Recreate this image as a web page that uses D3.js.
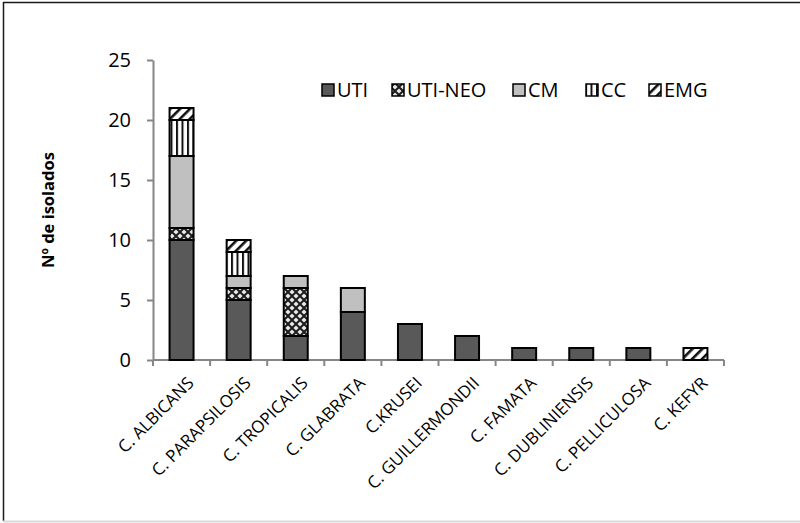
<!DOCTYPE html>
<html>
<head>
<meta charset="utf-8">
<script src="https://cdn.jsdelivr.net/npm/d3@7/dist/d3.min.js"></script>
<style>
  html, body { margin: 0; padding: 0; background: #fff; }
  svg { display: block; }
  text { font-family: "Open Sans", "Liberation Sans", sans-serif; fill: #000; }
</style>
</head>
<body>
<svg id="chart" width="800" height="523"></svg>
<script>
// Species of Candida (x categories)
const categories = [
  "C. ALBICANS", "C. PARAPSILOSIS", "C. TROPICALIS", "C. GLABRATA", "C.KRUSEI",
  "C. GUILLERMONDII", "C. FAMATA", "C. DUBLINIENSIS", "C. PELLICULOSA", "C. KEFYR"
];
// Number of isolates per sample origin, stacked in this order
const seriesNames = ["UTI", "UTI-NEO", "CM", "CC", "EMG"];
const uti    = [10, 5, 2, 4, 3, 2, 1, 1, 1, 0];
const utiNeo = [ 1, 1, 4, 0, 0, 0, 0, 0, 0, 0];
const cm     = [ 6, 1, 1, 2, 0, 0, 0, 0, 0, 0];
const cc     = [ 3, 2, 0, 0, 0, 0, 0, 0, 0, 0];
const emg    = [ 1, 1, 0, 0, 0, 0, 0, 0, 0, 1];
const yTicks = [0, 5, 10, 15, 20, 25];
const yTitle = "Nº de isolados";

const seriesValues = [uti, utiNeo, cm, cc, emg];
const rows = categories.map((c, i) => {
  const r = { cat: c };
  seriesNames.forEach((s, k) => r[s] = seriesValues[k][i]);
  return r;
});

const svg = d3.select("#chart");
const defs = svg.append("defs");

// Fill patterns for the stacked segments
const pNeo = defs.append("pattern").attr("id", "pNeo")
  .attr("patternUnits", "userSpaceOnUse").attr("width", 8).attr("height", 8);
pNeo.append("rect").attr("width", 8).attr("height", 8).attr("fill", "#1a1a1a");
[[0,0],[8,0],[0,8],[8,8],[4,4]].forEach(([cx, cy]) =>
  pNeo.append("path")
    .attr("d", `M${cx},${cy-2.6} L${cx+2.6},${cy} L${cx},${cy+2.6} L${cx-2.6},${cy} Z`)
    .attr("fill", "#e8e8e8"));

const pCC = defs.append("pattern").attr("id", "pCC")
  .attr("patternUnits", "userSpaceOnUse").attr("width", 5.5).attr("height", 10);
pCC.append("rect").attr("width", 5.5).attr("height", 10).attr("fill", "#fff");
pCC.append("rect").attr("x", 0).attr("width", 2).attr("height", 10).attr("fill", "#111");

const pEMG = defs.append("pattern").attr("id", "pEMG")
  .attr("patternUnits", "userSpaceOnUse").attr("width", 7).attr("height", 7)
  .attr("patternTransform", "rotate(45)");
pEMG.append("rect").attr("width", 7).attr("height", 7).attr("fill", "#fff");
pEMG.append("rect").attr("x", 0).attr("width", 2.6).attr("height", 7).attr("fill", "#111");

const fills = {
  "UTI": "#595959",
  "UTI-NEO": "url(#pNeo)",
  "CM": "#c0c0c0",
  "CC": "url(#pCC)",
  "EMG": "url(#pEMG)"
};

// Outer frame
svg.append("line").attr("x1", 3).attr("x2", 800).attr("y1", 2.5).attr("y2", 2.5)
  .attr("stroke", "#1a1a1a").attr("stroke-width", 1.5);
svg.append("line").attr("x1", 3.5).attr("x2", 3.5).attr("y1", 2).attr("y2", 521)
  .attr("stroke", "#1a1a1a").attr("stroke-width", 1.5);
svg.append("line").attr("x1", 3).attr("x2", 800).attr("y1", 521.5).attr("y2", 521.5)
  .attr("stroke", "#d9d9d9").attr("stroke-width", 2);

// Scales
const x = d3.scaleBand().domain(categories).range([153, 724])
  .paddingInner(0.58).paddingOuter(0.29);
const y = d3.scaleLinear().domain([0, 25]).range([360, 60]);

// Y axis
const yAxis = svg.append("g").attr("transform", "translate(153,0)")
  .call(d3.axisLeft(y).tickValues(yTicks).tickSize(6).tickSizeOuter(0).tickPadding(16));
yAxis.select(".domain").attr("stroke", "#868686").attr("stroke-width", 2);
yAxis.selectAll(".tick line").attr("stroke", "#868686").attr("stroke-width", 2);
yAxis.selectAll(".tick text").attr("font-size", 20)
  .attr("font-family", "'Open Sans', sans-serif").attr("fill", "#000");

svg.append("text")
  .attr("transform", `translate(54,210) rotate(-90)`)
  .attr("text-anchor", "middle")
  .attr("font-size", 16.5).attr("font-weight", "bold")
  .text(yTitle);

// X axis: baseline with ticks at category boundaries
const step = x.step();
const x0 = x.range()[0];
const bounds = d3.range(categories.length + 1).map(i => x0 + i * step);
const xAxis = svg.append("g");
xAxis.append("line").attr("x1", x0).attr("x2", x.range()[1])
  .attr("y1", y(0)).attr("y2", y(0))
  .attr("stroke", "#868686").attr("stroke-width", 2);
xAxis.selectAll("line.tk").data(bounds).join("line").attr("class", "tk")
  .attr("x1", d => d).attr("x2", d => d)
  .attr("y1", y(0)).attr("y2", y(0) + 6)
  .attr("stroke", "#868686").attr("stroke-width", 2);

// Stacked bars
const stack = d3.stack().keys(seriesNames)(rows);
svg.append("g").selectAll("g").data(stack).join("g")
  .attr("fill", d => fills[d.key])
  .selectAll("rect").data(d => d.filter(s => s[1] - s[0] > 0)).join("rect")
  .attr("x", d => x(d.data.cat))
  .attr("width", x.bandwidth())
  .attr("y", d => y(d[1]))
  .attr("height", d => y(d[0]) - y(d[1]))
  .attr("stroke", "#000").attr("stroke-width", 2);

// Category labels, rotated
svg.append("g").selectAll("text").data(categories).join("text")
  .attr("transform", d => `translate(${x(d) + x.bandwidth() / 2 + 9},${380}) rotate(-45)`)
  .attr("text-anchor", "end")
  .attr("dy", "0.35em")
  .attr("font-size", 17)
  .text(d => d);

// Legend
const legendX = [321, 391, 512, 585, 648];
const lg = svg.append("g").selectAll("g").data(seriesNames).join("g")
  .attr("transform", (d, i) => `translate(${legendX[i]},83)`);
lg.append("rect").attr("x", 1).attr("y", 1).attr("width", 12).attr("height", 12)
  .attr("fill", d => fills[d]).attr("stroke", "#000").attr("stroke-width", 1.5);
lg.append("text").attr("x", 16).attr("y", 7).attr("dy", "0.36em")
  .attr("font-size", 20).text(d => d);
</script>
</body>
</html>
